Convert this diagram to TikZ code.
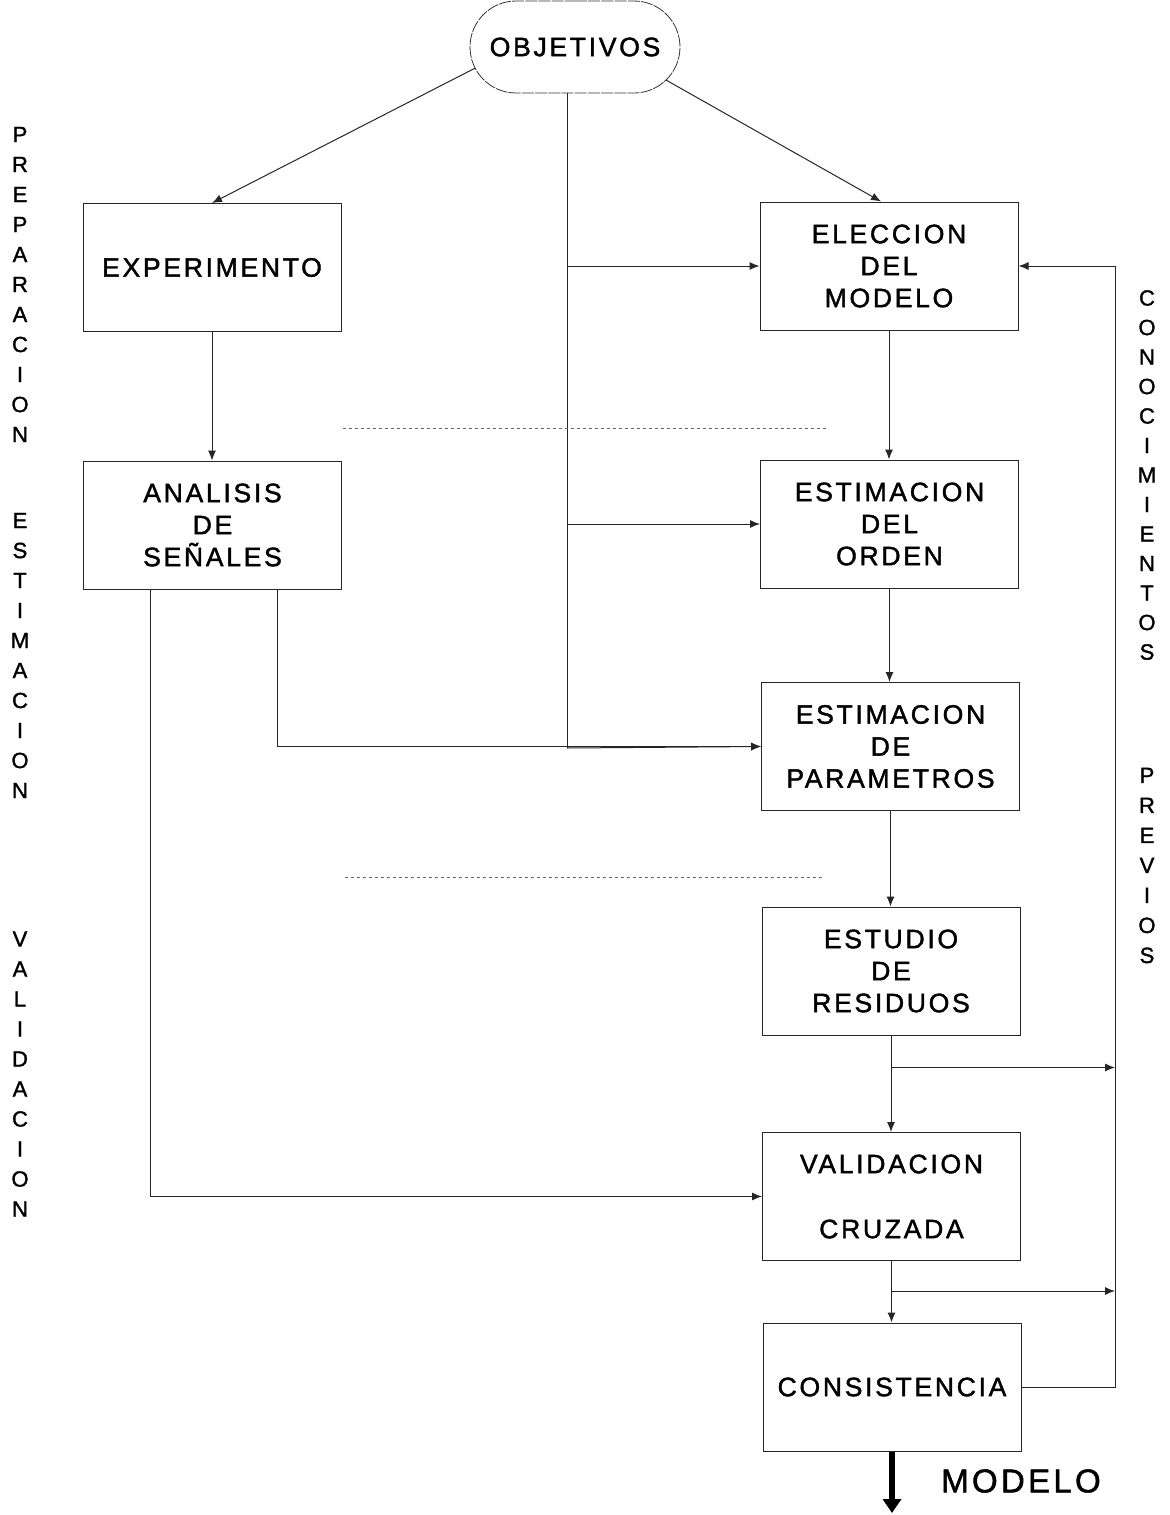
\documentclass[tikz,border=0pt]{standalone}
\usepackage{fontspec}
\setmainfont{Liberation Sans}
\newfontfamily\boxfont[LetterSpace=10,FakeBold=1.5]{Liberation Sans}
\newfontfamily\sidefont[FakeBold=1.5]{Liberation Sans}
\usetikzlibrary{arrows.meta,shapes.misc,calc}

\tikzset{
  stage/.style={draw=black!85, line width=0.5pt, minimum width=129pt, minimum height=64pt,
    align=center, inner sep=0pt, font={\boxfont\fontsize{13.3}{16}\selectfont}},
  goal/.style={rounded rectangle, draw=black!80, line width=0.4pt, dash pattern=on 6pt off 0.6pt,
    minimum width=105pt, minimum height=46pt, inner sep=0pt, font={\boxfont\fontsize{13.3}{16}\selectfont}},
  flow/.style={draw=black!85, line width=0.5pt, -{Latex[length=5pt,width=4pt]}},
  link/.style={draw=black!85, line width=0.5pt},
  phase/.style={align=center, inner sep=0pt, font={\sidefont\fontsize{11}{15}\selectfont}},
  phasewide/.style={align=center, inner sep=0pt, font={\sidefont\fontsize{11}{14.75}\selectfont}},
  sep/.style={draw=black!60, line width=0.4pt, dash pattern=on 1.5pt off 1.5pt},
  result/.style={draw=black, line width=2.6pt, -{Triangle[length=7pt,width=9pt]}}
}

\begin{document}
\begin{tikzpicture}[x=0.5pt,y=-0.5pt]
  \useasboundingbox (0,0) rectangle (1169,1515);

  % objective and processing stages
  \node[goal] (obj) at (575,47) {OBJETIVOS};
  \node[stage] (exp) at (212,267.5) {EXPERIMENTO};
  \node[stage] (ana) at (212.5,525) {ANALISIS\\DE\\SEÑALES};
  \node[stage] (ele) at (889,266) {ELECCION\\DEL\\MODELO};
  \node[stage] (ord) at (889.5,524) {ESTIMACION\\DEL\\ORDEN};
  \node[stage] (par) at (890.5,746.5) {ESTIMACION\\DE\\PARAMETROS};
  \node[stage] (res) at (891,971) {ESTUDIO\\DE\\RESIDUOS};
  \node[stage] (val) at (891.5,1196.5) {VALIDACION\\[16.5pt]CRUZADA};
  \node[stage] (con) at (892,1387) {CONSISTENCIA};

  % helper points: central spine, right feedback rail, branch points, model output
  \coordinate (sTop) at (567,93);
  \coordinate (sBot) at (567,748);
  \coordinate (rail) at (1115,0);
  \coordinate (brRes) at ([yshift=-16pt]res.south);
  \coordinate (brVal) at ([yshift=-15pt]val.south);
  \coordinate (out) at (892,1513);

  % from the objectives
  \draw[flow] (obj.192) -- (exp.north);
  \draw[flow] (obj.340) -- ([xshift=-4pt]ele.north);
  \draw[link] (sTop) -- (sBot);
  \draw[flow] (sTop |- ele.west) -- (ele.west);
  \draw[flow] (sTop |- ord.west) -- (ord.west);
  \draw[flow] (sBot) -- (par.west);

  % main chains
  \draw[flow] (exp.south) -- (exp.south |- ana.north);
  \draw[flow] (ele.south) -- (ele.south |- ord.north);
  \draw[flow] (ord.south) -- (ord.south |- par.north);
  \draw[flow] (par.south) -- (par.south |- res.north);
  \draw[flow] (res.south) -- (res.south |- val.north);
  \draw[flow] (val.south) -- (val.south |- con.north);

  % signal analysis feeding estimation and validation
  \draw[flow] ([xshift=32.25pt]ana.south) |- (par.west);
  \draw[flow] ([xshift=-31.25pt]ana.south) |- (val.west);

  % feedback to model choice
  \draw[flow] (brRes) -- (rail |- brRes);
  \draw[flow] (brVal) -- (rail |- brVal);
  \draw[flow] (con.east) -| (rail |- ele.east) -- (ele.east);

  % phase separators
  \draw[sep] (343,428) -- (826,428);
  \draw[sep] (345,877) -- (822,877);

  % final model
  \draw[result] (con.south) -- (out);
  \node[inner sep=0pt, font={\boxfont\fontsize{16.5}{20}\selectfont}] (mod) at (1021,1481) {MODELO};

  % phase labels, left
  \node[phase] (pPrep) at (20,284.5) {P\\R\\E\\P\\A\\R\\A\\C\\I\\O\\N};
  \node[phase] (pEst) at (20,655.5) {E\\S\\T\\I\\M\\A\\C\\I\\O\\N};
  \node[phase] (pVal) at (20,1074) {V\\A\\L\\I\\D\\A\\C\\I\\O\\N};

  % prior knowledge label, right
  \node[phasewide] (kCon) at (1147,475) {C\\O\\N\\O\\C\\I\\M\\I\\E\\N\\T\\O\\S};
  \node[phase] (kPrev) at (1147,865.5) {P\\R\\E\\V\\I\\O\\S};
\end{tikzpicture}
\end{document}
